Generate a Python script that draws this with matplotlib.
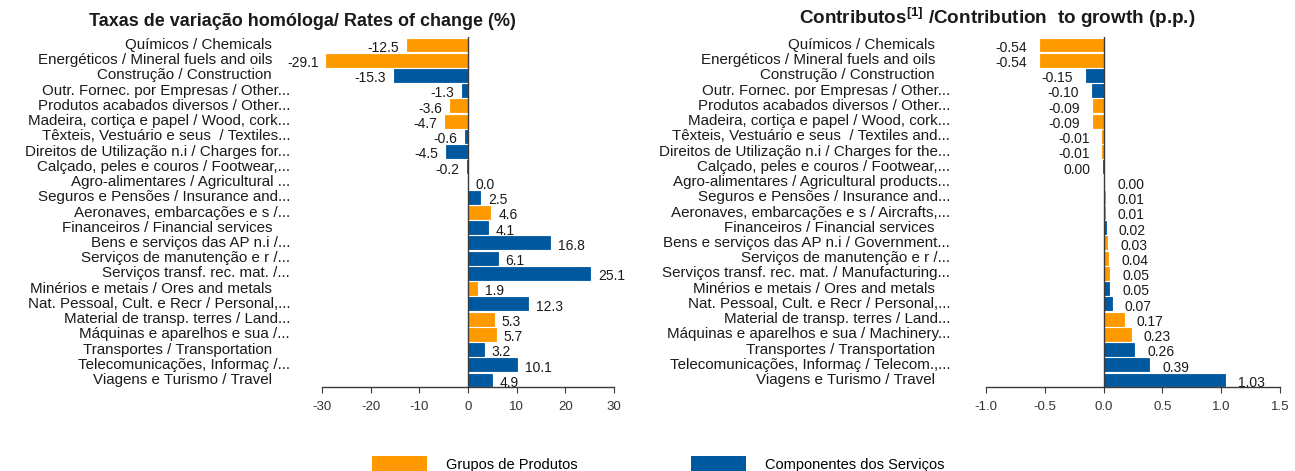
import numpy as np
import matplotlib
matplotlib.use('Agg')
import matplotlib.pyplot as plt
from matplotlib.patches import Patch
from matplotlib.transforms import blended_transform_factory, ScaledTranslation

plt.rcParams['font.family'] = ['Liberation Sans', 'DejaVu Sans']
plt.rcParams['mathtext.fontset'] = 'custom'
plt.rcParams['mathtext.bf'] = 'Liberation Sans:bold'
plt.rcParams['mathtext.rm'] = 'Liberation Sans'

ORANGE = '#FF9900'
BLUE = '#00589E'
INK = '#1a1a1a'
AXC = '#3a3a3a'

# left panel: rates of change (%)
rate_labels = [
    'Químicos / Chemicals',
    'Energéticos / Mineral fuels and oils',
    'Construção / Construction',
    'Outr. Fornec. por Empresas / Other...',
    'Produtos acabados diversos / Other...',
    'Madeira, cortiça e papel / Wood, cork...',
    'Têxteis, Vestuário e seus  / Textiles...',
    'Direitos de Utilização n.i / Charges for...',
    'Calçado, peles e couros / Footwear,...',
    'Agro-alimentares / Agricultural ...',
    'Seguros e Pensões / Insurance and...',
    'Aeronaves, embarcações e s /...',
    'Financeiros / Financial services',
    'Bens e serviços das AP n.i /...',
    'Serviços de manutenção e r /...',
    'Serviços transf. rec. mat. /...',
    'Minérios e metais / Ores and metals',
    'Nat. Pessoal, Cult. e Recr / Personal,...',
    'Material de transp. terres / Land...',
    'Máquinas e aparelhos e sua /...',
    'Transportes / Transportation',
    'Telecomunicações, Informaç /...',
    'Viagens e Turismo / Travel',
]
rate_values = [-12.5, -29.1, -15.3, -1.3, -3.6, -4.7, -0.6, -4.5, -0.2, 0.0, 2.5, 4.6,
               4.1, 16.8, 6.1, 25.1, 1.9, 12.3, 5.3, 5.7, 3.2, 10.1, 4.9]
rate_kind = ['P', 'P', 'S', 'S', 'P', 'P', 'S', 'S', 'S', 'S', 'S', 'P',
             'S', 'S', 'S', 'S', 'P', 'S', 'P', 'P', 'S', 'S', 'S']

# right panel: contribution to growth (p.p.)
contrib_labels = [
    'Químicos / Chemicals',
    'Energéticos / Mineral fuels and oils',
    'Construção / Construction',
    'Outr. Fornec. por Empresas / Other...',
    'Produtos acabados diversos / Other...',
    'Madeira, cortiça e papel / Wood, cork...',
    'Têxteis, Vestuário e seus  / Textiles and...',
    'Direitos de Utilização n.i / Charges for the...',
    'Calçado, peles e couros / Footwear,...',
    'Agro-alimentares / Agricultural products...',
    'Seguros e Pensões / Insurance and...',
    'Aeronaves, embarcações e s / Aircrafts,...',
    'Financeiros / Financial services',
    'Bens e serviços das AP n.i / Government...',
    'Serviços de manutenção e r /...',
    'Serviços transf. rec. mat. / Manufacturing...',
    'Minérios e metais / Ores and metals',
    'Nat. Pessoal, Cult. e Recr / Personal,...',
    'Material de transp. terres / Land...',
    'Máquinas e aparelhos e sua / Machinery...',
    'Transportes / Transportation',
    'Telecomunicações, Informaç / Telecom.,...',
    'Viagens e Turismo / Travel',
]
contrib_values = [-0.54, -0.54, -0.15, -0.10, -0.09, -0.09, -0.01, -0.01, -0.004, 0.004, 0.01, 0.01,
                  0.02, 0.03, 0.04, 0.05, 0.05, 0.07, 0.17, 0.23, 0.26, 0.39, 1.03]
contrib_kind = ['P', 'P', 'S', 'S', 'P', 'P', 'P', 'P', 'S', 'S', 'P', 'P',
                'S', 'P', 'P', 'P', 'S', 'S', 'P', 'P', 'S', 'S', 'S']

legend_names = {'P': 'Grupos de Produtos', 'S': 'Componentes dos Serviços'}
kind_color = {'P': ORANGE, 'S': BLUE}

fig = plt.figure(figsize=(12.95, 4.71), dpi=100)


def panel(rect, labels, values, kinds, xlim, xticks, fmt, gap_px, pads):
    ax = fig.add_axes(rect)
    n = len(labels)
    y = np.arange(n)
    colors = [kind_color[k] for k in kinds]
    ax.barh(y, values, height=0.85, color=colors, edgecolor=colors, linewidth=0.6, zorder=2)
    ax.set_ylim(n - 1 + 0.46, -0.5)
    ax.set_xlim(*xlim)
    ax.set_xticks(xticks)
    ax.set_xticklabels([fmt(t) for t in xticks], fontsize=9.5, color='#333333')
    ax.set_yticks([])
    for s in ['left', 'right', 'top']:
        ax.spines[s].set_visible(False)
    ax.spines['bottom'].set_color(AXC)
    ax.spines['bottom'].set_linewidth(1.0)
    ax.tick_params(axis='x', direction='out', length=4, color=AXC, pad=6)
    ax.axvline(0, color=AXC, lw=1.0, zorder=3)

    # category labels
    base = blended_transform_factory(ax.transAxes, ax.transData)
    for yi, lab in zip(y, labels):
        pad = pads[0] if lab.endswith('...') else pads[1]
        tr = base + ScaledTranslation(-pad / 100, 0, fig.dpi_scale_trans)
        ax.text(0, yi, lab, transform=tr, ha='right', va='center', fontsize=10.9, color=INK)

    # value labels
    for yi, v in zip(y, values):
        txt = fmt(v, value=True)
        if v < 0:
            ax.annotate(txt, (v, yi), xytext=(-gap_px * 0.72, -2), textcoords='offset points',
                        ha='right', va='center', fontsize=10, color=INK)
        else:
            ax.annotate(txt, (v, yi), xytext=(gap_px * 0.72, -2), textcoords='offset points',
                        ha='left', va='center', fontsize=10, color=INK)
    return ax


def fmt_rate(v, value=False):
    if value:
        s = f'{v:.1f}'
        return '0.0' if s == '-0.0' else s
    return f'{v:g}'


def fmt_contrib(v, value=False):
    if value:
        s = f'{v:.2f}'
        return '0.00' if s == '-0.00' else s
    return f'{v:.1f}'


H = 471.0
W = 1295.0
bottom = 1 - 387 / H
height = (387 - 37.4) / H

panel([322 / W, bottom, 292 / W, height], rate_labels, rate_values, rate_kind,
      (-30, 30), [-30, -20, -10, 0, 10, 20, 30], fmt_rate, 8, (32, 50))
panel([986 / W, bottom, 294 / W, height], contrib_labels, contrib_values, contrib_kind,
      (-1.0, 1.5), [-1.0, -0.5, 0.0, 0.5, 1.0, 1.5], fmt_contrib, 13, (36, 51))

fig.text(302 / W, 1 - 22 / H, 'Taxas de variação homóloga/ Rates of change (%)',
         ha='center', va='center', fontsize=13, fontweight='bold', color=INK)
fig.text(997 / W, 1 - 18 / H, r'Contributos$^{\mathbf{[1]}}$ /Contribution  to growth (p.p.)',
         ha='center', va='center', fontsize=13.6, fontweight='bold', color=INK)

handles = [Patch(facecolor=kind_color[k], edgecolor='none') for k in ['P', 'S']]
fig.legend(handles, [legend_names['P'], legend_names['S']], loc='lower left',
           bbox_to_anchor=(372 / W, -1 / H), ncol=2, frameon=False, fontsize=10.5,
           handlelength=3.8, handleheight=1.35, handletextpad=1.25, columnspacing=7.8,
           borderpad=0, borderaxespad=0)

fig.savefig('out.png', dpi=100)
